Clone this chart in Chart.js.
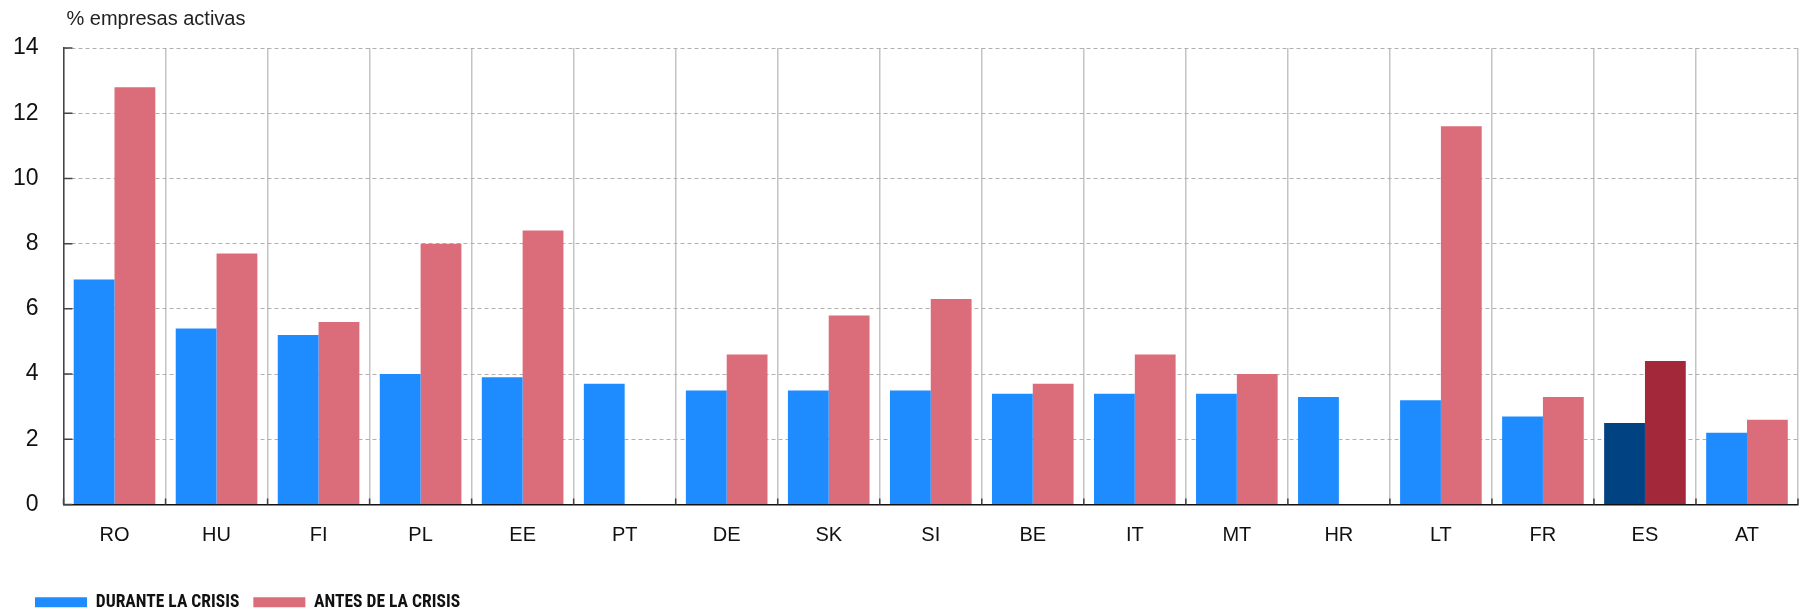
<!DOCTYPE html>
<html><head><meta charset="utf-8">
<script src="https://cdn.jsdelivr.net/npm/chart.js@4.4.1/dist/chart.umd.min.js"></script>
<style>html,body{margin:0;padding:0;background:#fff;overflow:hidden}</style>
</head><body>
<canvas id="c" width="1803" height="612"></canvas>
<script>
const categories = ['RO','HU','FI','PL','EE','PT','DE','SK','SI','BE','IT','MT','HR','LT','FR','ES','AT'];
const duranteLaCrisis = [6.9,5.4,5.2,4.0,3.9,3.7,3.5,3.5,3.5,3.4,3.4,3.4,3.3,3.2,2.7,2.5,2.2];
const antesDeLaCrisis = [12.8,7.7,5.6,8.0,8.4,null,4.6,5.8,6.3,3.7,4.6,4.0,null,11.6,3.3,4.4,2.6];
const yTicks = [0,2,4,6,8,10,12,14];
const seriesNames = ['DURANTE LA CRISIS','ANTES DE LA CRISIS'];
const highlightCategory = 'ES';
const axisTitle = '% empresas activas';

const hi = categories.indexOf(highlightCategory);
const colorFor = (base, dark) => (ctx) => (ctx.dataIndex === hi ? dark : base);

const extras = {
  id: 'extras',
  afterLayout(chart) {
    chart.legend.left += 11;
    chart.legend.right += 11;
  },
  afterDraw(chart) {
    const {ctx, chartArea: a, scales: {x, y}} = chart;
    ctx.save();
    ctx.strokeStyle = '#444';
    ctx.lineWidth = 1.5;
    ctx.beginPath();
    yTicks.forEach(v => {
      const py = y.getPixelForValue(v);
      ctx.moveTo(a.left, py); ctx.lineTo(a.left + 9, py);
    });
    const w = x.getPixelForValue(1) - x.getPixelForValue(0);
    const x0 = x.getPixelForValue(0) - w / 2;
    for (let i = 0; i <= categories.length; i++) {
      const px = x0 + i * w;
      ctx.moveTo(px, a.bottom); ctx.lineTo(px, a.bottom - 6);
    }
    ctx.stroke();
    ctx.fillStyle = '#222';
    ctx.font = '20px "Liberation Sans", Arial, sans-serif';
    ctx.textBaseline = 'alphabetic';
    ctx.textAlign = 'left';
    ctx.fillText(axisTitle, a.left + 3, 25);
    ctx.restore();
  }
};

new Chart(document.getElementById('c'), {
  type: 'bar',
  data: {
    labels: categories,
    datasets: [
      { label: seriesNames[0], data: duranteLaCrisis,
        backgroundColor: colorFor('#1e8cff', '#004282'), borderWidth: 0 },
      { label: seriesNames[1], data: antesDeLaCrisis,
        backgroundColor: colorFor('#db6c7a', '#a2283a'), borderWidth: 0 }
    ]
  },
  options: {
    responsive: false,
    animation: false,
    devicePixelRatio: 1,
    layout: { padding: { top: 48, left: 10, right: 5, bottom: -9 } },
    datasets: { bar: { categoryPercentage: 0.8, barPercentage: 1.0 } },
    plugins: {
      title: { display: false },
      tooltip: { enabled: false },
      legend: {
        position: 'bottom',
        align: 'start',
        labels: {
          boxWidth: 52, boxHeight: 10, padding: 14,
          color: '#111',
          font: { family: '"Roboto Condensed", "DejaVu Sans Condensed", sans-serif', size: 17.5, weight: 'bold' }
        }
      }
    },
    scales: {
      x: {
        offset: true,
        grid: { offset: true, color: '#c4c4c4', lineWidth: 1.5, drawTicks: false },
        border: { display: true, color: '#111', width: 1.5 },
        ticks: { color: '#111', padding: 18.5, font: { family: '"Liberation Sans", Arial, sans-serif', size: 20 } },
        afterFit: s => { s.height = 75; }
      },
      y: {
        min: 0, max: 14,
        afterBuildTicks: s => { s.ticks = yTicks.map(v => ({ value: v })); },
        grid: { color: '#b0b0b0', lineWidth: 1, drawTicks: false },
        border: { display: true, color: '#444', width: 1.5, dash: [4, 3] },
        ticks: { color: '#111', padding: 25, font: { family: '"Liberation Sans", Arial, sans-serif', size: 23 } },
        afterFit: s => { s.width = 53.5; }
      }
    }
  },
  plugins: [extras]
});
</script>
</body></html>
